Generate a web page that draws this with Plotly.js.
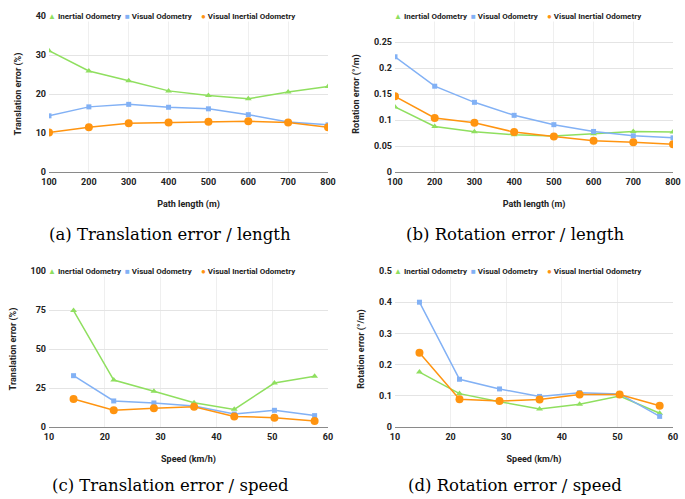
<!DOCTYPE html>
<html>
<head>
<meta charset="utf-8">
<script src="https://cdn.plot.ly/plotly-3.0.1.min.js"></script>
<style>html,body{margin:0;padding:0;background:#fff;}#chart{width:685px;height:499px;}</style>
</head>
<body>
<div id="chart"></div>
<script>
// ---- data ----
const seriesNames = ["Inertial Odometry", "Visual Odometry", "Visual Inertial Odometry"];
const pathLengths = [100, 200, 300, 400, 500, 600, 700, 800];
const transLenIO  = [31.1, 25.9, 23.4, 20.8, 19.6, 18.8, 20.5, 21.9];
const transLenVO  = [14.4, 16.7, 17.35, 16.6, 16.2, 14.7, 12.8, 12.1];
const transLenVIO = [10.1, 11.45, 12.5, 12.7, 12.9, 13.0, 12.7, 11.5];
const rotLenIO    = [0.125, 0.0876, 0.0773, 0.0715, 0.069, 0.0735, 0.078, 0.0767];
const rotLenVO    = [0.2216, 0.165, 0.134, 0.109, 0.091, 0.078, 0.0696, 0.0657];
const rotLenVIO   = [0.1456, 0.104, 0.0947, 0.0767, 0.0683, 0.06, 0.0573, 0.0535];
const speeds      = [14.4, 21.6, 28.8, 36.0, 43.2, 50.4, 57.6];
const transSpdIO  = [74.6, 30.1, 22.9, 15.6, 11.3, 28.2, 32.5];
const transSpdVO  = [32.9, 16.7, 15.4, 13.5, 8.3, 10.7, 7.3];
const transSpdVIO = [17.9, 10.7, 12.0, 13.0, 6.8, 6.0, 3.8];
const rotSpdIO    = [0.176, 0.107, 0.081, 0.058, 0.073, 0.099, 0.044];
const rotSpdVO    = [0.40, 0.153, 0.122, 0.098, 0.110, 0.106, 0.034];
const rotSpdVIO   = [0.238, 0.089, 0.083, 0.088, 0.104, 0.104, 0.068];

const lenTicks = [100, 200, 300, 400, 500, 600, 700, 800];
const transLenTicks = [0, 10, 20, 30, 40];
const rotLenTicks = [0, 0.05, 0.1, 0.15, 0.2, 0.25];
const rotLenTickText = ["0", "0.05", "0.1", "0.15", "0.2", "0.25"];
const speedTicks = [10, 20, 30, 40, 50, 60];
const transSpdTicks = [0, 25, 50, 75, 100];
const rotSpdTicks = [0, 0.1, 0.2, 0.3, 0.4, 0.5];

const captions = ["(a) Translation error / length", "(b) Rotation error / length",
                  "(c) Translation error / speed", "(d) Rotation error / speed"];
const xTitles = ["Path length (m)", "Path length (m)", "Speed (km/h)", "Speed (km/h)"];
const yTitles = ["Translation error (%)", "Rotation error (°/m)", "Translation error (%)", "Rotation error (°/m)"];

// ---- styles ----
const colors = ["#8fdf5f", "#82b1f5", "#ff9410"];
const symbols = ["triangle-up", "square", "circle"];
const msizes = [6, 5, 8];
const legendGlyphs = ["▲", "■", "●"];
const W = 685, H = 499;
const FAM = "Roboto, 'Liberation Sans', Arial, sans-serif";
const legendFont = {family: FAM, size: 8, color: "#222", weight: 700};
const tickFont = {family: FAM, size: 9, color: "#222", weight: 700};
const titleFont = {family: FAM, size: 9, color: "#222", weight: 700};
const capFont = {family: "'DejaVu Serif', 'Liberation Serif', serif", size: 16.5, color: "#000", weight: 400};

const panels = [
  {x: pathLengths, ys: [transLenIO, transLenVO, transLenVIO]},
  {x: pathLengths, ys: [rotLenIO, rotLenVO, rotLenVIO]},
  {x: speeds, ys: [transSpdIO, transSpdVO, transSpdVIO]},
  {x: speeds, ys: [rotSpdIO, rotSpdVO, rotSpdVIO]}
];

const data = [];
panels.forEach((p, i) => {
  const sfx = i === 0 ? "" : String(i + 1);
  p.ys.forEach((y, s) => {
    data.push({
      type: "scatter", mode: "lines+markers", x: p.x, y: y,
      name: seriesNames[s], showlegend: false,
      xaxis: "x" + sfx, yaxis: "y" + sfx,
      line: {color: colors[s], width: 1.5},
      marker: {color: colors[s], symbol: symbols[s], size: msizes[s]}
    });
  });
});

// domains in px -> paper
const colX = [[49, 328], [395, 673]];
const rowY = [[16, 172], [271, 427]];
const xd = c => [colX[c][0] / W, colX[c][1] / W];
const yd = r => [1 - rowY[r][1] / H, 1 - rowY[r][0] / H];

function xAxis(c, range, ticks, title) {
  return {
    domain: xd(c), range: range, tickvals: ticks,
    showgrid: true, gridcolor: "#efefef", gridwidth: 1,
    zeroline: false, showline: false, ticks: "", ticklabelstandoff: 3,
    tickfont: tickFont,
    title: {text: title, font: titleFont, standoff: 14}
  };
}
function yAxis(r, range, ticks, ticktext, title) {
  const a = {
    domain: yd(r), range: range, tickvals: ticks,
    showgrid: true, gridcolor: "#e4e4e4", gridwidth: 1,
    zeroline: true, zerolinecolor: "#8a8a8a", zerolinewidth: 1,
    showline: false, ticks: "", ticklabelstandoff: 2,
    tickfont: tickFont,
    title: {text: title, font: titleFont, standoff: 12}
  };
  if (ticktext) a.ticktext = ticktext;
  return a;
}

const layout = {
  width: W, height: H,
  margin: {l: 0, r: 0, t: 0, b: 0},
  paper_bgcolor: "#fff", plot_bgcolor: "#fff",
  showlegend: false,
  font: {family: FAM, size: 9, color: "#222"},
  xaxis:  Object.assign(xAxis(0, [100, 800], lenTicks, xTitles[0]), {anchor: "y"}),
  yaxis:  Object.assign(yAxis(0, [0, 40], transLenTicks, null, yTitles[0]), {anchor: "x"}),
  xaxis2: Object.assign(xAxis(1, [100, 800], lenTicks, xTitles[1]), {anchor: "y2"}),
  yaxis2: Object.assign(yAxis(0, [0, 0.3], rotLenTicks, rotLenTickText, yTitles[1]), {anchor: "x2"}),
  xaxis3: Object.assign(xAxis(0, [10, 60], speedTicks, xTitles[2]), {anchor: "y3"}),
  yaxis3: Object.assign(yAxis(1, [0, 100], transSpdTicks, null, yTitles[2]), {anchor: "x3"}),
  xaxis4: Object.assign(xAxis(1, [10, 60], speedTicks, xTitles[3]), {anchor: "y4"}),
  yaxis4: Object.assign(yAxis(1, [0, 0.5], rotSpdTicks, null, yTitles[3]), {anchor: "x4"}),
  annotations: []
};

// legends (one per panel) and captions
const legendOffsets = [0, 77, 153];
const capY = [234, 485];
const capX = [170, 515];
for (let r = 0; r < 2; r++) {
  for (let c = 0; c < 2; c++) {
    const idx = r * 2 + c;
    seriesNames.forEach((n, s) => {
      layout.annotations.push({
        xref: "paper", yref: "paper",
        x: colX[c][0] / W, y: 1 - rowY[r][0] / H,
        xanchor: "left", yanchor: "middle", xshift: legendOffsets[s] - 2,
        showarrow: false, bgcolor: "#fff", borderpad: 0,
        text: '<span style="color:' + colors[s] + '">' + legendGlyphs[s] + '</span> ' + n,
        font: legendFont
      });
    });
    layout.annotations.push({
      xref: "paper", yref: "paper",
      x: capX[c] / W, y: 1 - capY[r] / H,
      xanchor: "center", yanchor: "middle", showarrow: false,
      text: captions[idx],
      font: capFont
    });
  }
}

Plotly.newPlot("chart", data, layout, {displayModeBar: false, staticPlot: true});
</script>
</body>
</html>
